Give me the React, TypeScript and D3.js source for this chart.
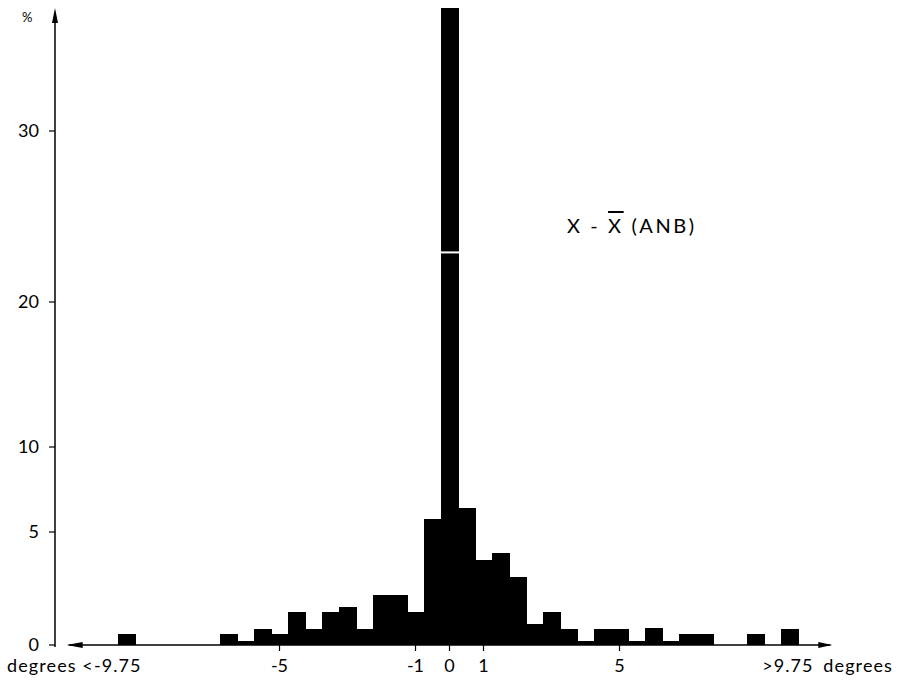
import React from "react";
import * as d3 from "d3";

// Histogram bins (centre of each 0.5-degree bin) and the percentage in each
const binCenters = [-9.5, -6.5, -6, -5.5, -5, -4.5, -4, -3.5, -3, -2.5, -2, -1.5, -1, -0.5, 0, 0.5, 1, 1.5, 2, 2.5, 3, 3.5, 4, 4.5, 5, 5.5, 6, 6.5, 7, 7.5, 9, 10];
const percents = [0.49, 0.49, 0.19, 0.69, 0.49, 1.45, 0.69, 1.45, 1.67, 0.72, 2.23, 2.23, 1.46, 5.76, 37.2, 6.41, 3.76, 4.07, 3.0, 0.92, 1.45, 0.69, 0.19, 0.69, 0.69, 0.19, 0.74, 0.19, 0.49, 0.49, 0.49, 0.72];
const binWidth = 0.5;

const yTicks = [0, 5, 10, 20, 30];
const yTickLabels = ["0", "5", "10", "20", "30"];
const xTicks = [-5, -1, 0, 1, 5];
const xTickLabels = ["-5", "-1", "0", "1", "5"];
const leftLabel = "degrees <-9.75";
const rightLabel = ">9.75 degrees";
const breakValue = 22.9;

const FONT = "Lato, 'Open Sans', sans-serif";

export default function App() {
  const W = 899, H = 684;
  const x = d3.scaleLinear().domain([-5, 5]).range([279.5, 619.5]);
  // hand-drawn axis: piecewise linear
  const y = d3.scaleLinear().domain([0, 5, 10, 20, 30]).range([645, 532, 447, 302, 131]);
  const axisX = 55;
  const baseY = y(0);

  const bars = binCenters.map((c, i) => ({ c, v: percents[i] }));
  const tall = bars.find((b) => b.v > 30);

  return (
    <div style={{ position: "absolute", left: 0, top: 0, width: W, height: H, background: "#fff" }}>
      <svg width={W} height={H} style={{ display: "block" }} fontFamily={FONT}>
        <rect width={W} height={H} fill="#fff" />
        {/* bars */}
        <g fill="#000" shapeRendering="crispEdges">
          {bars.map((b, i) => (
            <rect
              key={i}
              x={x(b.c - binWidth / 2)}
              width={x(b.c + binWidth / 2) - x(b.c - binWidth / 2) + 0.5}
              y={y(b.v)}
              height={baseY - y(b.v)}
            />
          ))}
        </g>
        {tall && (
          <rect
            x={x(tall.c - binWidth / 2)}
            width={x(tall.c + binWidth / 2) - x(tall.c - binWidth / 2) + 1}
            y={y(breakValue) - 1}
            height={2}
            fill="#fff"
          />
        )}
        {/* y axis */}
        <line x1={axisX} x2={axisX} y1={baseY + 2} y2={y(30) - 110} stroke="#000" strokeWidth={1.5} />
        <path d={`M${axisX - 3},${y(30) - 108} L${axisX},${y(30) - 123} L${axisX + 3},${y(30) - 108} Z`} fill="#000" />
        {yTicks.map((t, i) => (
          <g key={t}>
            <line x1={axisX - 6} x2={axisX} y1={y(t)} y2={y(t)} stroke="#000" strokeWidth={1.2} />
            <text x={39} y={y(t)} dy="0.36em" textAnchor="end" fontSize={18}>
              {yTickLabels[i]}
            </text>
          </g>
        ))}
        <text x={22} y={22} fontSize={13}>%</text>
        {/* x axis */}
        <line x1={x(-11.2)} x2={x(11.2)} y1={baseY} y2={baseY} stroke="#000" strokeWidth={1.5} />
        <path d={`M${x(-11.2) + 14},${baseY - 3} L${x(-11.2) - 2},${baseY} L${x(-11.2) + 14},${baseY + 3} Z`} fill="#000" />
        <path d={`M${x(11.2) - 12},${baseY - 3} L${x(11.2) + 2},${baseY} L${x(11.2) - 12},${baseY + 3} Z`} fill="#000" />
        {xTicks.map((t, i) => (
          <g key={t}>
            <line x1={x(t)} x2={x(t)} y1={baseY} y2={baseY + 6} stroke="#000" strokeWidth={1.2} />
            <text x={x(t)} y={672} textAnchor="middle" fontSize={18}>
              {xTickLabels[i]}
            </text>
          </g>
        ))}
        <text x={7} y={672} fontSize={18} letterSpacing={1.1}>{leftLabel}</text>
        <text x={893} y={672} fontSize={18} textAnchor="end" letterSpacing={1.1} wordSpacing={4}>{rightLabel}</text>
        {/* title */}
        <text x={567} y={233} fontSize={20} letterSpacing={2.6}>
          <tspan>X - </tspan>
          <tspan style={{ textDecoration: "overline" }}>X</tspan>
          <tspan> (ANB)</tspan>
        </text>
      </svg>
    </div>
  );
}
